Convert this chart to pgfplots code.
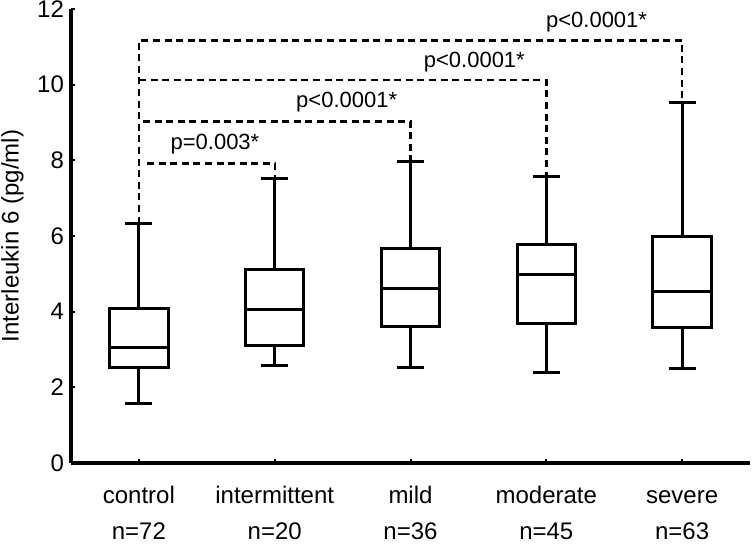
\documentclass[border=0pt]{standalone}
\usepackage{fontspec}
\setmainfont{Liberation Sans}
\usepackage{pgfplots}
\pgfplotsset{compat=1.18}
\usepgfplotslibrary{statistics}
\begin{document}
\begin{tikzpicture}
\begin{axis}[
  name=ax,
  scale only axis, width=339.5pt, height=227pt,
  xmin=-0.5, xmax=4.5, ymin=0, ymax=12,
  axis x line*=bottom, axis y line*=left,
  axis line style={line width=2pt},
  xtick={0,1,2,3,4},
  xticklabels={{\strut control\\n=72},{\strut intermittent\\n=20},{\strut mild\\n=36},{\strut moderate\\n=45},{\strut severe\\n=63}},
  xticklabel style={align=center, font=\fontsize{12}{18}\selectfont, yshift=-4pt},
  ytick={0,2,4,6,8,10,12},
  yticklabel style={font=\fontsize{12}{14}\selectfont},
  /pgf/number format/assume math mode=true,
  tick align=inside, major tick length=2pt,
  tick style={black, line width=1pt},
  ylabel={Interleukin 6 (pg/ml)},
  ylabel style={font=\fontsize{12}{14}\selectfont},
  clip=false,
  boxplot/draw direction=y,
  boxplot/box extend=0.43,
  boxplot/whisker extend=0.2,
]
\addplot[black, line width=1.5pt, solid, line join=miter, boxplot prepared={draw position=0,
  lower whisker=1.57, lower quartile=2.52, median=3.06, upper quartile=4.08, upper whisker=6.33}] coordinates {};
\addplot[black, line width=1.5pt, solid, line join=miter, boxplot prepared={draw position=1,
  lower whisker=2.57, lower quartile=3.11, median=4.07, upper quartile=5.11, upper whisker=7.53}] coordinates {};
\addplot[black, line width=1.5pt, solid, line join=miter, boxplot prepared={draw position=2,
  lower whisker=2.53, lower quartile=3.61, median=4.62, upper quartile=5.66, upper whisker=7.97}] coordinates {};
\addplot[black, line width=1.5pt, solid, line join=miter, boxplot prepared={draw position=3,
  lower whisker=2.38, lower quartile=3.70, median=4.97, upper quartile=5.77, upper whisker=7.57}] coordinates {};
\addplot[black, line width=1.5pt, solid, line join=miter, boxplot prepared={draw position=4,
  lower whisker=2.49, lower quartile=3.58, median=4.54, upper quartile=5.99, upper whisker=9.54}] coordinates {};
% significance brackets
\addplot[black, line width=1.2pt, dash pattern=on 3.5pt off 2.3pt] coordinates {(0,6.33) (0,11.17) (4,11.17) (4,9.54)};
\addplot[black, line width=1.2pt, dash pattern=on 3.5pt off 2.3pt] coordinates {(0,10.12) (3,10.12) (3,7.57)};
\addplot[black, line width=1.2pt, dash pattern=on 3.5pt off 2.3pt] coordinates {(0.03,9.03) (2,9.03) (2,7.97)};
\addplot[black, line width=1.2pt, dash pattern=on 3.5pt off 2.3pt] coordinates {(0.06,7.92) (1,7.92) (1,7.53)};
\node[font=\fontsize{11}{13}\selectfont] at (axis cs:0.56,8.43) {p=0.003*};
\node[font=\fontsize{11}{13}\selectfont] at (axis cs:1.53,9.53) {p<0.0001*};
\node[font=\fontsize{11}{13}\selectfont] at (axis cs:2.47,10.60) {p<0.0001*};
\node[font=\fontsize{11}{13}\selectfont] at (axis cs:3.37,11.65) {p<0.0001*};
\end{axis}
\pgfresetboundingbox
\path[use as bounding box] ([xshift=-35.5pt,yshift=-44pt]ax.south west) rectangle ([xshift=2pt,yshift=4.5pt]ax.north east);
\end{tikzpicture}
\end{document}
